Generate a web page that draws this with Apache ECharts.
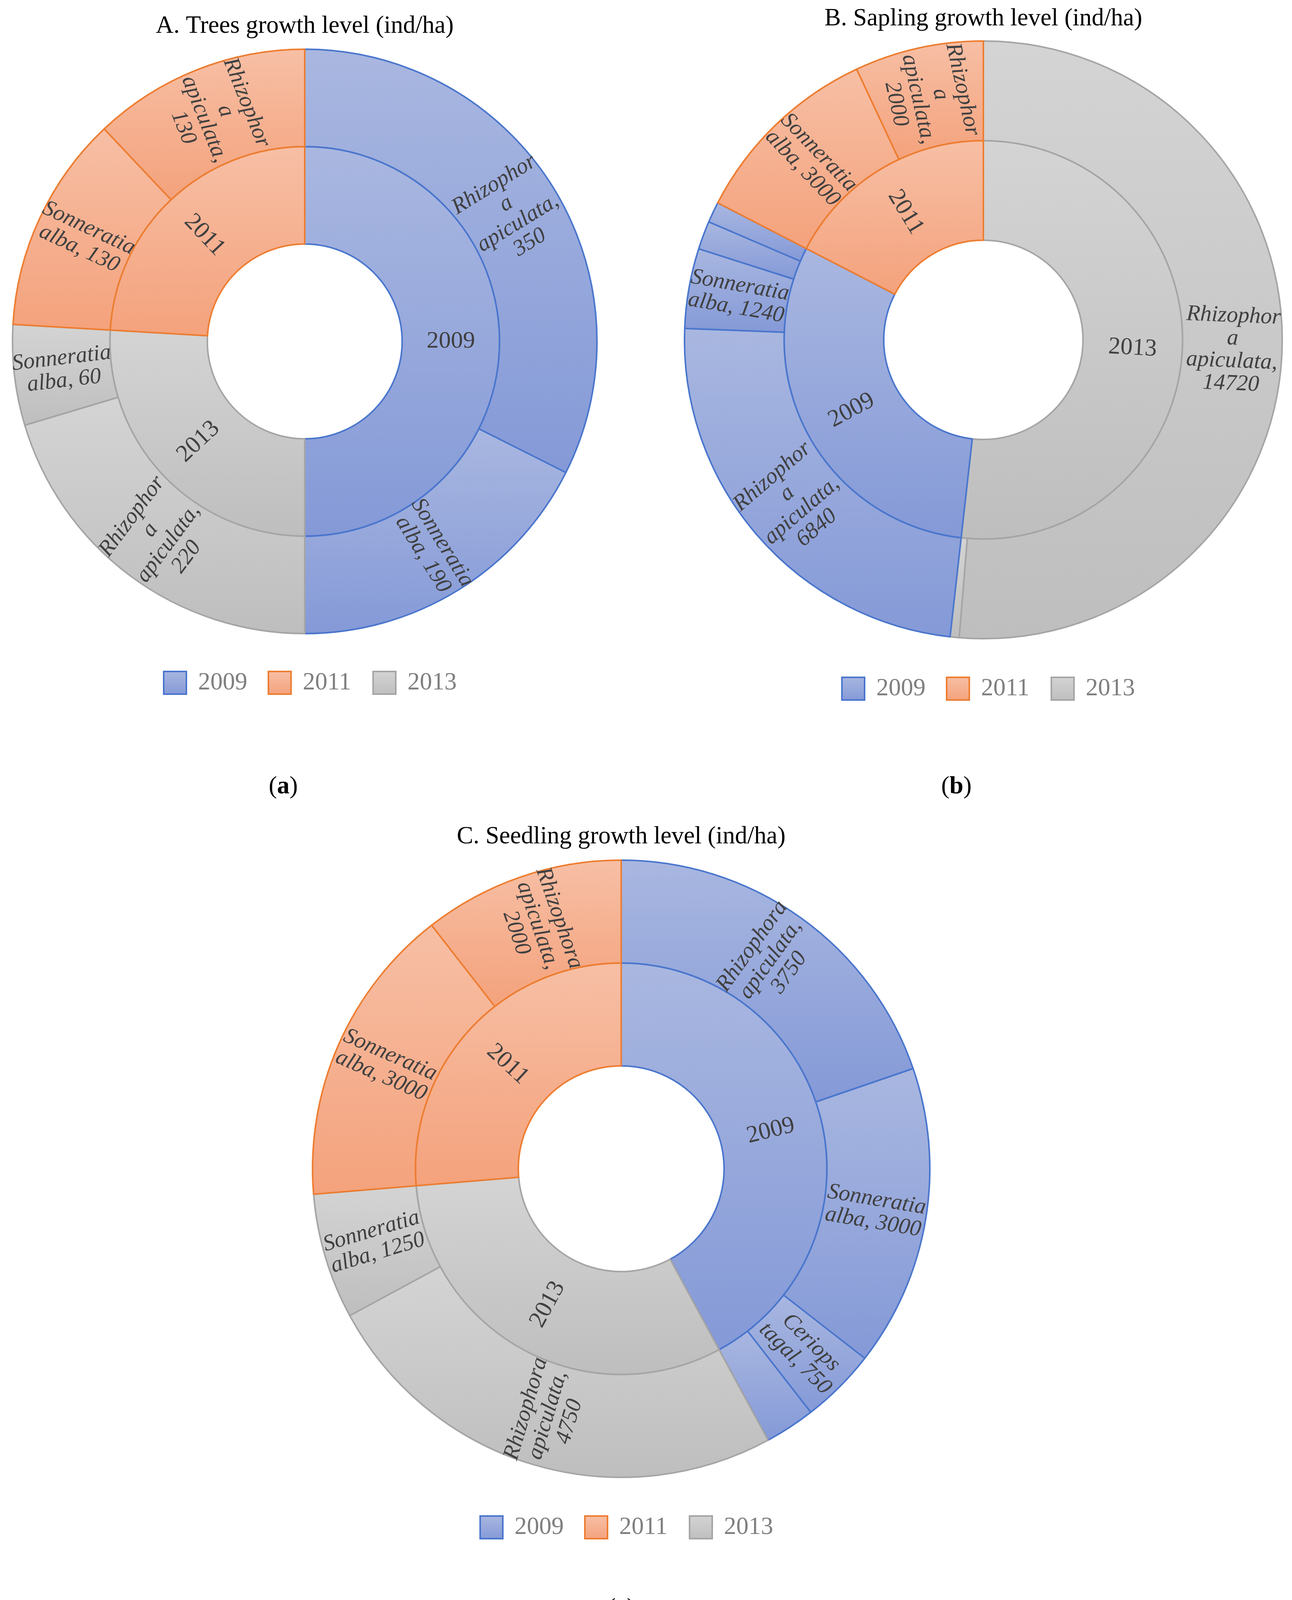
<!DOCTYPE html>
<html>
<head>
<meta charset="utf-8">
<script src="https://cdn.jsdelivr.net/npm/echarts@6/dist/echarts.min.js"></script>
<style>
  html, body { margin: 0; padding: 0; background: #fff; }
  #main { width: 3307px; height: 4190px; }
</style>
</head>
<body>
<div id="main"></div>
<script>
// legend order
const years = ['2009', '2011', '2013'];

// A. Trees (years in drawing order, clockwise from 12 o'clock)
const treeYears = ['2009', '2013', '2011'];
const treeSpecies = [
  ['Rhizophora apiculata', 'Sonneratia alba'],
  ['Rhizophora apiculata', 'Sonneratia alba'],
  ['Sonneratia alba', 'Rhizophora apiculata'],
];
const treeValues = [[350, 190], [220, 60], [130, 130]];

// B. Saplings (two unlabeled small slices in 2009, one sliver in 2013)
const saplingYears = ['2013', '2009', '2011'];
const saplingSpecies = [
  ['Rhizophora apiculata', 'Sonneratia alba'],
  ['Rhizophora apiculata', 'Sonneratia alba', 'Ceriops tagal', 'Bruguiera gymnorrhiza'],
  ['Sonneratia alba', 'Rhizophora apiculata'],
];
const saplingValues = [[14720, 140], [6840, 1240, 440, 320], [3000, 2000]];

// C. Seedlings
const seedlingYears = ['2009', '2013', '2011'];
const seedlingSpecies = [
  ['Rhizophora apiculata', 'Sonneratia alba', 'Ceriops tagal', 'Bruguiera gymnorrhiza'],
  ['Rhizophora apiculata', 'Sonneratia alba'],
  ['Sonneratia alba', 'Rhizophora apiculata'],
];
const seedlingValues = [[3750, 3000, 750, 500], [4750, 1250], [3000, 2000]];

const yearColors = {
  '2009': { top: '#A9B7E0', bottom: '#8499D7', border: '#4A76CD' },
  '2011': { top: '#F7BFA5', bottom: '#F4A27C', border: '#ED7D31' },
  '2013': { top: '#D4D4D4', bottom: '#BEBEBE', border: '#A5A5A5' },
};

const SERIF = 'Liberation Serif';

function fill(year) {
  const c = yearColors[year];
  return new echarts.graphic.LinearGradient(0, 0, 0, 1, [
    { offset: 0, color: c.top },
    { offset: 1, color: c.bottom },
  ]);
}

// excel-like wrapping of the data labels (narrow rings split "Rhizophora")
function wrapLabel(name, value, narrow) {
  const parts = name.split(' ');
  let genus = parts[0];
  const sp = parts.slice(1).join(' ');
  if (narrow && genus === 'Rhizophora') genus = 'Rhizophor\na';
  const tail = sp + ', ' + value;
  if (tail.length <= 11) return genus + '\n' + tail;
  return genus + '\n' + sp + ',\n' + value;
}

function buildTree(ys, species, values) {
  return ys.map((y, i) => ({
    name: y,
    itemStyle: { color: fill(y), borderColor: yearColors[y].border },
    children: species[i].map((s, j) => ({
      name: s,
      value: values[i][j],
      itemStyle: { color: fill(y), borderColor: yearColors[y].border },
    })),
  }));
}

function makeSeries(data, center, R, narrow) {
  return {
    type: 'sunburst',
    center: center,
    radius: [R / 3, R],
    startAngle: 90,
    clockwise: true,
    sort: null,
    nodeClick: false,
    emphasis: { disabled: true },
    itemStyle: { borderWidth: 4 },
    data: data,
    levels: [
      {},
      {
        r0: R / 3,
        r: (2 * R) / 3,
        label: {
          rotate: 'radial',
          align: 'center',
          overflow: 'none',
          fontFamily: SERIF,
          fontSize: 62,
          color: '#404040',
          formatter: '{b}',
        },
      },
      {
        r0: (2 * R) / 3,
        r: R,
        label: {
          rotate: 'radial',
          align: 'center',
          overflow: 'none',
          minAngle: 10,
          fontFamily: SERIF,
          fontStyle: 'italic',
          fontSize: 58,
          lineHeight: 58,
          color: '#404040',
          formatter: (p) => wrapLabel(p.name, p.value, narrow),
        },
      },
    ],
  };
}

const charts = [
  { title: 'A. Trees growth level (ind/ha)', cx: 780, cy: 874, R: 748, titleY: 67,
    legendX: 419, legendY: 1748, caption: 'a', capX: 725, capY: 2014,
    data: buildTree(treeYears, treeSpecies, treeValues), narrow: true },
  { title: 'B. Sapling growth level (ind/ha)', cx: 2517, cy: 870, R: 765, titleY: 48,
    legendX: 2155, legendY: 1763, caption: 'b', capX: 2448, capY: 2014,
    data: buildTree(saplingYears, saplingSpecies, saplingValues), narrow: true },
  { title: 'C. Seedling growth level (ind/ha)', cx: 1590, cy: 2992, R: 790, titleY: 2142,
    legendX: 1229, legendY: 3910, caption: 'c', capX: 1590, capY: 4118,
    data: buildTree(seedlingYears, seedlingSpecies, seedlingValues), narrow: false },
];

const graphics = [];
charts.forEach((c) => {
  graphics.push({
    type: 'text', x: c.cx, y: c.titleY,
    style: { text: c.title, fontFamily: SERIF, fontSize: 63, fill: '#000',
      textAlign: 'center', textVerticalAlign: 'middle' },
  });
  years.forEach((y, i) => {
    const x0 = c.legendX + i * 268;
    graphics.push({
      type: 'rect', shape: { x: x0, y: c.legendY - 29, width: 58, height: 58 },
      style: { fill: fill(y), stroke: yearColors[y].border, lineWidth: 4 },
    });
    graphics.push({
      type: 'text', x: x0 + 88, y: c.legendY,
      style: { text: y, fontFamily: SERIF, fontSize: 63, fill: '#7F7F7F',
        textAlign: 'left', textVerticalAlign: 'middle' },
    });
  });
  graphics.push({
    type: 'text', x: c.capX, y: c.capY,
    style: {
      text: '({l|' + c.caption + '})',
      fontFamily: SERIF, fontSize: 64, fontWeight: 'normal', fill: '#000',
      textAlign: 'center', textVerticalAlign: 'middle',
      rich: { l: { fontFamily: SERIF, fontSize: 64, fontWeight: 'bold', fill: '#000' } },
    },
  });
});

const chart = echarts.init(document.getElementById('main'));
chart.setOption({
  backgroundColor: '#fff',
  animation: false,
  series: charts.map((c) => makeSeries(c.data, [c.cx, c.cy], c.R, c.narrow)),
  graphic: graphics,
});
</script>
</body>
</html>
